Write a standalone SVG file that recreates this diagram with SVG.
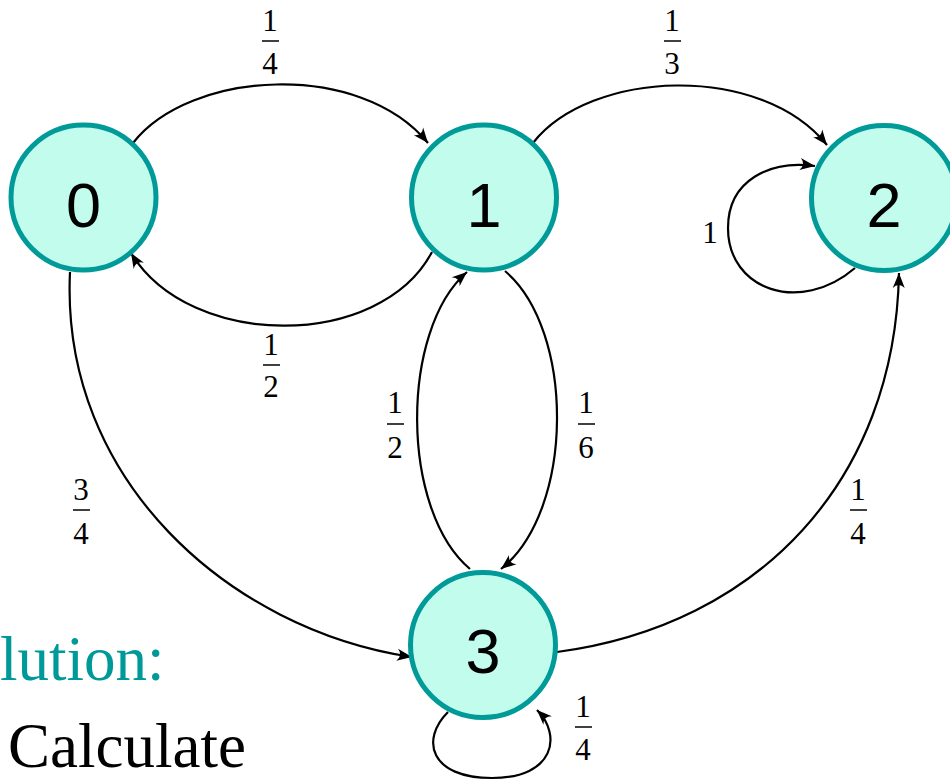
<svg xmlns="http://www.w3.org/2000/svg" width="950" height="781" viewBox="0 0 950 781">
<style>
.node{fill:#c2fcec;stroke:#009a98;stroke-width:5}
.num{font-family:"Liberation Sans",Arial,sans-serif;font-size:63px;text-anchor:middle;fill:#000}
.edge{fill:none;stroke:#000;stroke-width:2.2;marker-end:url(#arr)}
.frac{font-family:"Liberation Serif","Times New Roman",serif;font-size:31px;text-anchor:middle;fill:#000}
.bar{stroke:#000;stroke-width:1.5}
.big{font-family:"Liberation Serif","Times New Roman",serif;font-size:63px}
</style>
<defs>
<marker id="arr" markerUnits="userSpaceOnUse" markerWidth="20" markerHeight="16" viewBox="-16 -8 20 16" refX="0" refY="0" orient="auto">
<path d="M0,0 L-15,-6 Q-9,0 -15,6 Z" fill="#000"/>
</marker>
</defs>
<rect width="950" height="781" fill="#fff"/>
<text class="big" x="0" y="680" fill="#009999">lution:</text>
<text class="big" x="8" y="767" fill="#000">Calculate</text>
<g id="connectors">
<path class="edge" d="M133,143 C190,70 360,60 428,143"/>
<path class="edge" d="M533,143 C590,70 760,62 827,145"/>
<path class="edge" d="M432,252 C380,350 190,350 131,253"/>
<path class="edge" d="M70,272 C60,480 230,630 412,657"/>
<path class="edge" d="M557,652 C760,625 895,480 899,273"/>
<path class="edge" d="M470,569 C400,510 400,330 467,272"/>
<path class="edge" d="M505,271 C575,330 575,510 501,569"/>
<path class="edge" d="M855,268 C800,315 728,290 728,228 C728,180 770,160 815,166"/>
<path class="edge" d="M448,712 C420,740 430,778 492,778 C555,778 562,735 537,710"/>
</g>
<g id="labels">
<text class="frac" x="270" y="31">1</text><line class="bar" x1="262" y1="41" x2="279" y2="41"/><text class="frac" x="270" y="74">4</text>
<text class="frac" x="672" y="31">1</text><line class="bar" x1="664" y1="41" x2="681" y2="41"/><text class="frac" x="672" y="74">3</text>
<text class="frac" x="271" y="355">1</text><line class="bar" x1="263" y1="365" x2="280" y2="365"/><text class="frac" x="271" y="397">2</text>
<text class="frac" x="395" y="413">1</text><line class="bar" x1="387" y1="424" x2="404" y2="424"/><text class="frac" x="395" y="458">2</text>
<text class="frac" x="586" y="413">1</text><line class="bar" x1="578" y1="424" x2="595" y2="424"/><text class="frac" x="586" y="458">6</text>
<text class="frac" x="81" y="500">3</text><line class="bar" x1="73" y1="510" x2="90" y2="510"/><text class="frac" x="81" y="544">4</text>
<text class="frac" x="858" y="500">1</text><line class="bar" x1="850" y1="510" x2="867" y2="510"/><text class="frac" x="858" y="544">4</text>
<text class="frac" x="583" y="717">1</text><line class="bar" x1="575" y1="727" x2="592" y2="727"/><text class="frac" x="583" y="760">4</text>
<text class="frac" x="710" y="243">1</text>
</g>
<g id="node0"><circle class="node" cx="83.5" cy="197.5" r="72.5"/><text class="num" x="83.5" y="227">0</text></g>
<g id="node1"><circle class="node" cx="484" cy="197.5" r="72.5"/><text class="num" x="484" y="227">1</text></g>
<g id="node2"><circle class="node" cx="884" cy="198" r="72.5"/><text class="num" x="884" y="227">2</text></g>
<g id="node3"><circle class="node" cx="483" cy="645" r="72.5"/><text class="num" x="483" y="673">3</text></g>
</svg>
